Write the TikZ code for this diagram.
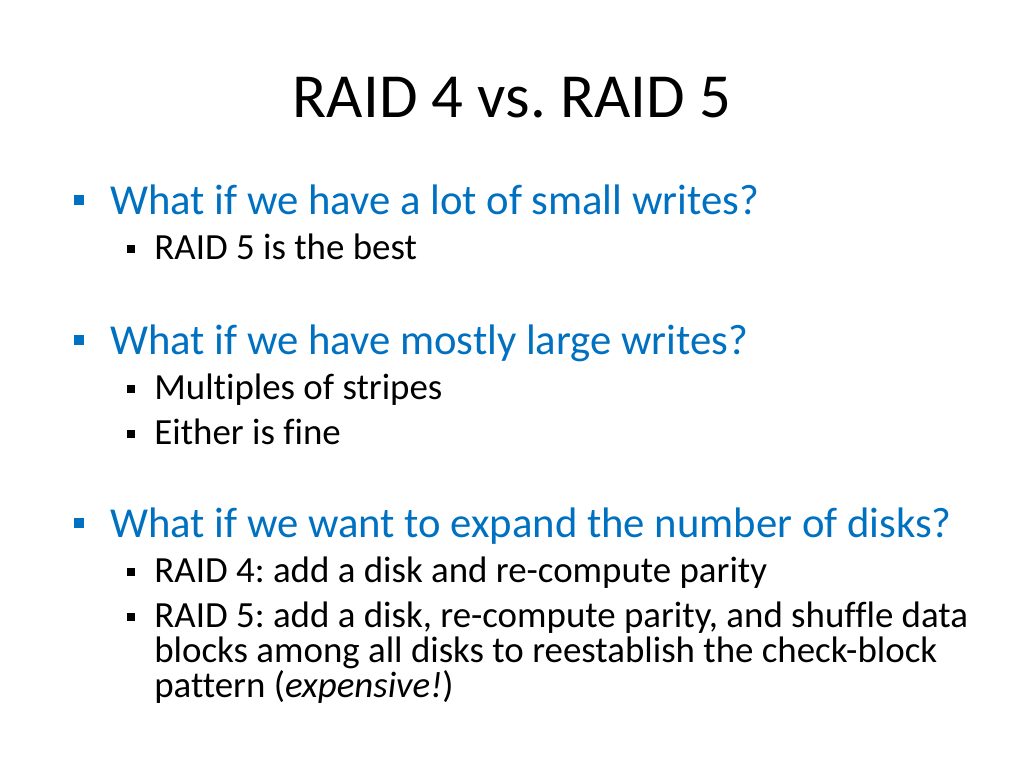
\documentclass[tikz,border=0pt]{standalone}
\usepackage{fontspec}
\setmainfont[Ligatures=NoCommon]{Carlito}
\definecolor{slblue}{HTML}{0070C0}
\frenchspacing
\begin{document}
\begin{tikzpicture}[x=0.02cm,y=-0.02cm,
  lone/.style={anchor=base west,inner sep=0,text=slblue,font=\fontsize{24.3}{29}\selectfont},
  ltwo/.style={anchor=base west,inner sep=0,font=\fontsize{21}{25}\selectfont,align=left},
  bone/.style={fill=slblue,minimum size=6pt,inner sep=0,anchor=center},
  btwo/.style={fill=black,minimum size=5pt,inner sep=0,anchor=center}]
\useasboundingbox (0,0) rectangle (1024,768);
\node[anchor=base,inner sep=0,font=\fontsize{35.7}{42}\selectfont] (title) at (512,117) {RAID 4 vs.\ RAID 5};
\node[bone] (b1) at (79,200) {};
\node[lone] (t1) at (110,214) {What if we have a lot of small writes?};
\node[btwo] (b11) at (131,249) {};
\node[ltwo] (t11) at (154,259) {RAID 5 is the best};
\node[bone] (b2) at (79,340) {};
\node[lone] (t2) at (110,354) {What if we have mostly large writes?};
\node[btwo] (b21) at (131,389) {};
\node[ltwo] (t21) at (154,399) {Multiples of stripes};
\node[btwo] (b22) at (131,434) {};
\node[ltwo] (t22) at (154,444) {Either is fine};
\node[bone] (b3) at (79,523) {};
\node[lone] (t3) at (110,537) {What if we want to expand the number of disks?};
\node[btwo] (b31) at (131,572) {};
\node[ltwo] (t31) at (154,582) {RAID 4: add a disk and re-compute parity};
\node[btwo] (b32) at (131,617) {};
\node[ltwo] (t32) at (154,627) {RAID 5: add a disk, re-compute parity, and shuffle data};
\node[ltwo] (t33) at (154,662) {blocks among all disks to reestablish the check-block};
\node[ltwo] (t34) at (154,697) {pattern (\textit{expensive!})};
\end{tikzpicture}
\end{document}
